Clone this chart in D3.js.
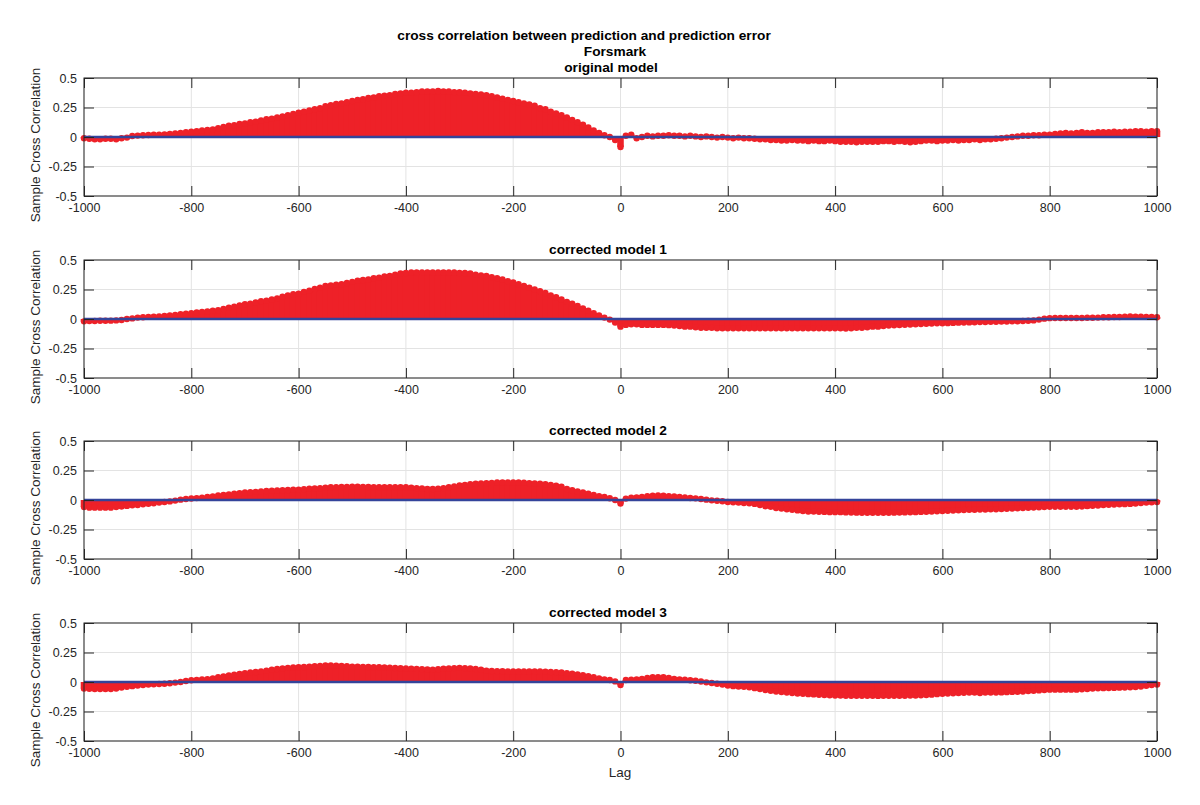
<!DOCTYPE html>
<html>
<head>
<meta charset="utf-8">
<script src="https://cdn.jsdelivr.net/npm/d3@7/dist/d3.min.js"></script>
<style>
	body { margin: 0; background: #fff; }
	text { font-family: "Liberation Sans", Arial, Helvetica, sans-serif; }
</style>
</head>
<body>
<div id="chart-area"></div>
<script>
// DATA (sample cross correlation, read every 10 lags)
var lags = d3.range(-1000, 1001, 10);
var xTicks = [-1000, -800, -600, -400, -200, 0, 200, 400, 600, 800, 1000];
var yTicks = [-0.5, -0.25, 0, 0.25, 0.5];
var mainTitle = ["cross correlation between prediction and prediction error", "Forsmark"];
var panelTitles = ["original model", "corrected model 1", "corrected model 2", "corrected model 3"];

var originalModel = [
	-0.01, -0.015, -0.02, -0.02, -0.015, -0.015, -0.02, -0.01, -0.005, 0.008,
	0.012, 0.015, 0.017, 0.02, 0.02, 0.022, 0.025, 0.03, 0.035, 0.04,
	0.045, 0.05, 0.055, 0.06, 0.065, 0.075, 0.085, 0.095, 0.1, 0.11,
	0.115, 0.125, 0.13, 0.14, 0.15, 0.155, 0.165, 0.175, 0.185, 0.195,
	0.205, 0.215, 0.225, 0.235, 0.245, 0.26, 0.27, 0.28, 0.285, 0.295,
	0.305, 0.315, 0.32, 0.33, 0.335, 0.345, 0.35, 0.355, 0.365, 0.37,
	0.375, 0.375, 0.38, 0.385, 0.385, 0.385, 0.39, 0.385, 0.385, 0.38,
	0.38, 0.375, 0.37, 0.365, 0.36, 0.355, 0.345, 0.335, 0.325, 0.315,
	0.305, 0.295, 0.285, 0.275, 0.265, 0.245, 0.235, 0.215, 0.2, 0.185,
	0.165, 0.145, 0.125, 0.105, 0.08, 0.055, 0.035, 0.015, 0.0, -0.025,
	-0.085, 0.01, 0.02, -0.01, 0.0, 0.01, 0.005, 0.01, 0.01, 0.015,
	0.01, 0.01, 0.005, 0.01, 0.005, 0.0, 0.005, 0.0, -0.005, 0.0,
	-0.005, -0.01, -0.005, -0.01, -0.01, -0.015, -0.02, -0.02, -0.025, -0.025,
	-0.03, -0.03, -0.025, -0.03, -0.03, -0.035, -0.03, -0.035, -0.035, -0.03,
	-0.035, -0.04, -0.04, -0.04, -0.045, -0.04, -0.04, -0.04, -0.04, -0.035,
	-0.035, -0.04, -0.035, -0.04, -0.045, -0.04, -0.035, -0.03, -0.03, -0.035,
	-0.03, -0.03, -0.025, -0.03, -0.025, -0.025, -0.02, -0.025, -0.02, -0.02,
	-0.015, -0.01, -0.005, 0.0, 0.005, 0.01, 0.01, 0.015, 0.015, 0.02,
	0.02, 0.025, 0.03, 0.035, 0.03, 0.035, 0.04, 0.035, 0.035, 0.04,
	0.04, 0.04, 0.045, 0.04, 0.045, 0.045, 0.05, 0.05, 0.045, 0.05,
	0.05
];

var correctedModel1 = [
	-0.02, -0.018, -0.017, -0.015, -0.015, -0.014, -0.012, -0.008, 0.0, 0.005,
	0.012, 0.015, 0.018, 0.02, 0.022, 0.025, 0.03, 0.035, 0.04, 0.045,
	0.05, 0.055, 0.06, 0.065, 0.07, 0.075, 0.085, 0.095, 0.105, 0.115,
	0.125, 0.13, 0.14, 0.15, 0.155, 0.165, 0.175, 0.19, 0.2, 0.21,
	0.215, 0.23, 0.24, 0.255, 0.265, 0.28, 0.285, 0.29, 0.295, 0.305,
	0.315, 0.325, 0.33, 0.335, 0.345, 0.35, 0.36, 0.365, 0.375, 0.385,
	0.39, 0.395, 0.395, 0.395, 0.395, 0.395, 0.395, 0.395, 0.395, 0.395,
	0.39, 0.39, 0.385, 0.375, 0.37, 0.365, 0.355, 0.345, 0.335, 0.32,
	0.31, 0.295, 0.28, 0.265, 0.25, 0.235, 0.22, 0.2, 0.185, 0.165,
	0.145, 0.13, 0.11, 0.09, 0.07, 0.05, 0.03, 0.012, -0.005, -0.03,
	-0.065, -0.05, -0.045, -0.045, -0.05, -0.05, -0.05, -0.05, -0.05, -0.052,
	-0.055, -0.06, -0.065, -0.065, -0.07, -0.075, -0.075, -0.075, -0.078, -0.078,
	-0.078, -0.078, -0.078, -0.078, -0.078, -0.078, -0.078, -0.078, -0.078, -0.078,
	-0.078, -0.078, -0.078, -0.078, -0.078, -0.078, -0.078, -0.078, -0.078, -0.078,
	-0.078, -0.078, -0.08, -0.078, -0.075, -0.075, -0.07, -0.065, -0.065, -0.06,
	-0.055, -0.053, -0.051, -0.049, -0.047, -0.045, -0.043, -0.041, -0.039, -0.037,
	-0.037, -0.035, -0.033, -0.031, -0.03, -0.029, -0.027, -0.025, -0.025, -0.024,
	-0.024, -0.022, -0.022, -0.02, -0.02, -0.017, -0.015, -0.012, -0.005, 0.003,
	0.007, 0.008, 0.008, 0.008, 0.009, 0.009, 0.008, 0.01, 0.011, 0.012,
	0.015, 0.015, 0.017, 0.017, 0.02, 0.022, 0.02, 0.02, 0.018, 0.018,
	0.015
];

var correctedModel2 = [
	-0.06, -0.065, -0.065, -0.065, -0.065, -0.065, -0.06, -0.055, -0.05, -0.045,
	-0.042, -0.037, -0.032, -0.027, -0.022, -0.017, -0.012, -0.005, 0.003, 0.008,
	0.013, 0.016, 0.02, 0.025, 0.031, 0.038, 0.043, 0.048, 0.053, 0.058,
	0.063, 0.066, 0.069, 0.073, 0.076, 0.079, 0.081, 0.083, 0.085, 0.087,
	0.088, 0.091, 0.095, 0.098, 0.101, 0.105, 0.108, 0.109, 0.11, 0.111,
	0.113, 0.113, 0.111, 0.11, 0.109, 0.108, 0.108, 0.108, 0.108, 0.108,
	0.108, 0.105, 0.101, 0.097, 0.093, 0.093, 0.095, 0.101, 0.108, 0.115,
	0.123, 0.128, 0.133, 0.138, 0.141, 0.143, 0.145, 0.148, 0.148, 0.148,
	0.148, 0.148, 0.146, 0.143, 0.141, 0.138, 0.133, 0.128, 0.121, 0.113,
	0.093, 0.083, 0.073, 0.063, 0.053, 0.043, 0.033, 0.025, 0.015, 0.0,
	-0.03, 0.012, 0.02, 0.022, 0.025, 0.033, 0.036, 0.038, 0.036, 0.033,
	0.03, 0.025, 0.022, 0.017, 0.014, 0.008, 0.003, -0.003, -0.006, -0.01,
	-0.017, -0.019, -0.022, -0.025, -0.028, -0.033, -0.043, -0.053, -0.058, -0.068,
	-0.073, -0.078, -0.083, -0.088, -0.093, -0.098, -0.098, -0.1, -0.101, -0.103,
	-0.103, -0.103, -0.105, -0.106, -0.107, -0.108, -0.108, -0.108, -0.108, -0.108,
	-0.108, -0.107, -0.106, -0.105, -0.104, -0.103, -0.101, -0.099, -0.097, -0.095,
	-0.093, -0.091, -0.089, -0.087, -0.085, -0.083, -0.083, -0.081, -0.08, -0.079,
	-0.078, -0.076, -0.074, -0.072, -0.07, -0.068, -0.066, -0.064, -0.062, -0.06,
	-0.058, -0.058, -0.058, -0.058, -0.058, -0.058, -0.055, -0.052, -0.049, -0.046,
	-0.043, -0.041, -0.039, -0.037, -0.035, -0.033, -0.03, -0.025, -0.022, -0.02,
	-0.018
];

var correctedModel3 = [
	-0.055, -0.057, -0.059, -0.06, -0.06, -0.06, -0.055, -0.047, -0.041, -0.035,
	-0.03, -0.025, -0.022, -0.02, -0.017, -0.015, -0.01, -0.005, 0.0, 0.008,
	0.015, 0.018, 0.021, 0.024, 0.03, 0.04, 0.047, 0.055, 0.062, 0.069,
	0.075, 0.08, 0.085, 0.09, 0.095, 0.105, 0.11, 0.115, 0.12, 0.123,
	0.125, 0.127, 0.13, 0.133, 0.137, 0.14, 0.14, 0.138, 0.135, 0.133,
	0.13, 0.129, 0.128, 0.127, 0.126, 0.125, 0.123, 0.121, 0.119, 0.117,
	0.115, 0.113, 0.111, 0.109, 0.107, 0.105, 0.108, 0.112, 0.115, 0.118,
	0.12, 0.118, 0.115, 0.11, 0.105, 0.095, 0.093, 0.092, 0.091, 0.09,
	0.09, 0.09, 0.09, 0.09, 0.09, 0.09, 0.088, 0.085, 0.083, 0.08,
	0.075, 0.07, 0.065, 0.058, 0.05, 0.04, 0.03, 0.022, 0.017, 0.005,
	-0.025, 0.017, 0.02, 0.022, 0.025, 0.035, 0.04, 0.04, 0.04, 0.035,
	0.025, 0.022, 0.02, 0.015, 0.011, 0.004, -0.003, -0.009, -0.015, -0.022,
	-0.03, -0.035, -0.038, -0.041, -0.045, -0.052, -0.06, -0.068, -0.075, -0.08,
	-0.085, -0.09, -0.093, -0.097, -0.1, -0.103, -0.105, -0.108, -0.111, -0.113,
	-0.115, -0.115, -0.116, -0.116, -0.117, -0.117, -0.117, -0.117, -0.118, -0.117,
	-0.117, -0.117, -0.116, -0.116, -0.115, -0.115, -0.113, -0.11, -0.107, -0.103,
	-0.1, -0.097, -0.095, -0.093, -0.091, -0.09, -0.09, -0.093, -0.09, -0.09,
	-0.09, -0.088, -0.086, -0.084, -0.082, -0.08, -0.077, -0.074, -0.071, -0.068,
	-0.065, -0.065, -0.065, -0.065, -0.065, -0.065, -0.062, -0.059, -0.056, -0.054,
	-0.052, -0.051, -0.05, -0.048, -0.046, -0.045, -0.042, -0.038, -0.032, -0.025,
	-0.022
];

var seriesList = [originalModel, correctedModel1, correctedModel2, correctedModel3];

//INITIAL SETUP
var svgWidth = 1200;
var svgHeight = 805;
var plotLeft = 84;
var plotRight = 1157;
var plotHeight = 118;
var panelTops = [78, 260, 441, 623];
var stemColor = "#ee2128";
var baseColor = "#34449a";
var axisColor = "#262626";

var svg = d3.select('#chart-area')
	.append('svg')
	.attr('width', svgWidth)
	.attr('height', svgHeight)
	.style('display', 'block');

//SCALES
var x = d3.scaleLinear()
	.domain([-1000, 1000])
	.range([plotLeft, plotRight]);

var y = d3.scaleLinear()
	.domain([-0.5, 0.5])
	.range([plotHeight, 0]);

var stemWidth = (x(10) - x(0)) + 1.2;

// plain hyphen for negatives, like the original figure
function hyphen(d) {
	return String(d).replace("\u2212", "-");
}

//MAIN TITLE (first line sits a little left of the others in the original)
var titleCenters = [584, 615];
mainTitle.forEach(function (line, i) {
	svg.append("text")
		.attr("x", titleCenters[i])
		.attr("y", 40 + i * 16)
		.attr("text-anchor", "middle")
		.attr("font-size", "13.7px")
		.attr("font-weight", "bold")
		.attr("fill", "#000")
		.text(line);
});

//PANELS
seriesList.forEach(function (values, p) {
	var g = svg.append('g')
		.attr('transform', 'translate(0,' + panelTops[p] + ')');

	var points = lags.map(function (lag, i) {
		return { lag: lag, value: values[i] };
	});

	// grid
	g.append('g').selectAll('line')
		.data(xTicks)
		.enter().append('line')
		.attr('x1', function (d) { return x(d); })
		.attr('x2', function (d) { return x(d); })
		.attr('y1', 0)
		.attr('y2', plotHeight)
		.attr('stroke', '#e3e3e3')
		.attr('stroke-width', 1);

	g.append('g').selectAll('line')
		.data(yTicks)
		.enter().append('line')
		.attr('x1', plotLeft)
		.attr('x2', plotRight)
		.attr('y1', function (d) { return y(d); })
		.attr('y2', function (d) { return y(d); })
		.attr('stroke', '#e3e3e3')
		.attr('stroke-width', 1);

	// stems
	g.append('g').selectAll('line')
		.data(points)
		.enter().append('line')
		.attr('x1', function (d) { return x(d.lag); })
		.attr('x2', function (d) { return x(d.lag); })
		.attr('y1', y(0))
		.attr('y2', function (d) { return y(d.value); })
		.attr('stroke', stemColor)
		.attr('stroke-width', stemWidth);

	// markers
	g.append('g').selectAll('circle')
		.data(points)
		.enter().append('circle')
		.attr('cx', function (d) { return x(d.lag); })
		.attr('cy', function (d) { return y(d.value); })
		.attr('r', 3.2)
		.attr('fill', stemColor);

	// baseline
	g.append('line')
		.attr('x1', plotLeft)
		.attr('x2', plotRight)
		.attr('y1', y(0))
		.attr('y2', y(0))
		.attr('stroke', baseColor)
		.attr('stroke-width', 2.5);

	// axes
	var xAxis = d3.axisBottom(x)
		.tickValues(xTicks)
		.tickSizeInner(-10)
		.tickSizeOuter(0)
		.tickPadding(7)
		.tickFormat(hyphen);
	var xAxisTop = d3.axisTop(x)
		.tickValues(xTicks)
		.tickSizeInner(-10)
		.tickSizeOuter(0)
		.tickFormat("");
	var yAxis = d3.axisLeft(y)
		.tickValues(yTicks)
		.tickSizeInner(-10)
		.tickSizeOuter(0)
		.tickPadding(7)
		.tickFormat(hyphen);
	var yAxisRight = d3.axisRight(y)
		.tickValues(yTicks)
		.tickSizeInner(-10)
		.tickSizeOuter(0)
		.tickFormat("");

	var axes = [
		g.append('g').attr('transform', 'translate(0,' + plotHeight + ')').call(xAxis),
		g.append('g').call(xAxisTop),
		g.append('g').attr('transform', 'translate(' + plotLeft + ',0)').call(yAxis),
		g.append('g').attr('transform', 'translate(' + plotRight + ',0)').call(yAxisRight)
	];
	axes.forEach(function (a) {
		a.select('.domain').remove();
		a.selectAll('line').attr('stroke', axisColor);
		a.selectAll('text')
			.attr('fill', axisColor)
			.style('font-size', '12.5px')
			.style('font-family', '"Liberation Sans", Arial, sans-serif');
	});

	// box
	g.append('rect')
		.attr('x', plotLeft)
		.attr('y', 0)
		.attr('width', plotRight - plotLeft)
		.attr('height', plotHeight)
		.attr('fill', 'none')
		.attr('stroke', axisColor)
		.attr('stroke-width', 1);

	// panel title
	g.append('text')
		.attr('x', p === 0 ? 611 : 608)
		.attr('y', -6)
		.attr('text-anchor', 'middle')
		.attr('font-size', '13.7px')
		.attr('font-weight', 'bold')
		.attr('fill', '#000')
		.text(panelTitles[p]);

	// y label
	g.append('text')
		.attr('transform', 'rotate(-90)')
		.attr('x', -plotHeight / 2 - 8)
		.attr('y', 40)
		.attr('text-anchor', 'middle')
		.attr('font-size', '13.5px')
		.attr('fill', axisColor)
		.text('Sample Cross Correlation');
});

//X LABEL
svg.append("text")
	.attr("x", 620)
	.attr("y", 777)
	.attr("text-anchor", "middle")
	.attr("font-size", "13.5px")
	.attr("fill", axisColor)
	.text("Lag");
</script>
</body>
</html>
